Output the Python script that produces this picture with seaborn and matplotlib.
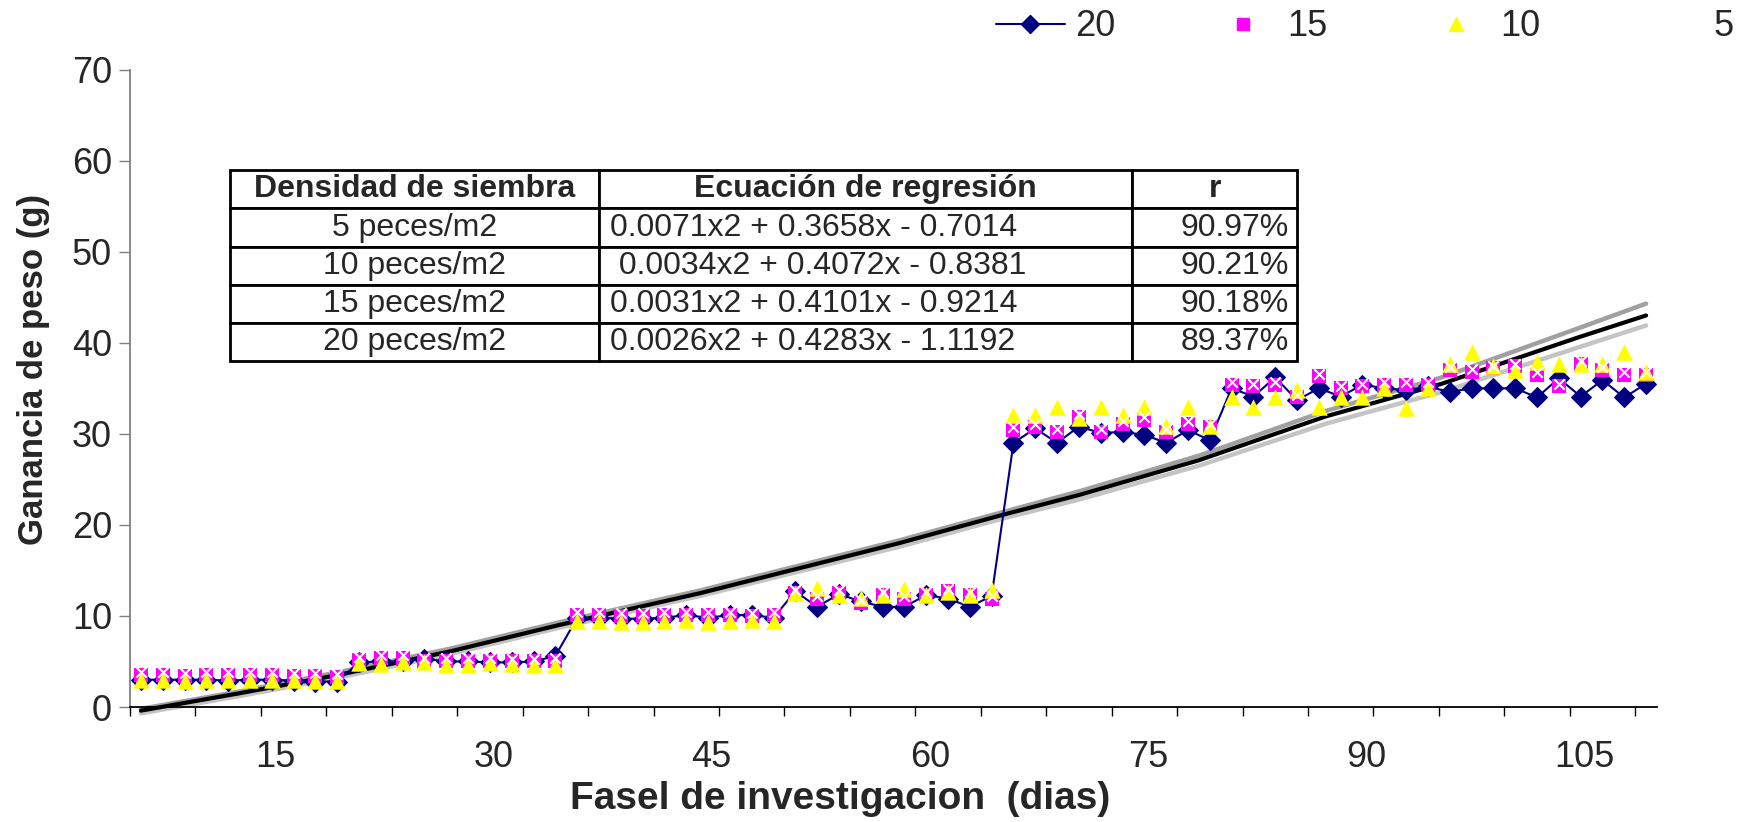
import numpy as np
import seaborn as sns
import matplotlib.pyplot as plt
from matplotlib.lines import Line2D

# dias de muestreo (cada 1.5 dias)
dias = [5.75, 7.25, 8.75, 10.25, 11.75, 13.25, 14.75, 16.25, 17.75, 19.25,
        20.75, 22.25, 23.75, 25.25, 26.75, 28.25, 29.75, 31.25, 32.75, 34.25,
        35.75, 37.25, 38.75, 40.25, 41.75, 43.25, 44.75, 46.25, 47.75, 49.25,
        50.75, 52.25, 53.75, 55.25, 56.75, 58.25, 59.75, 61.25, 62.75, 64.25,
        65.75, 67.25, 68.75, 70.25, 71.75, 73.25, 74.75, 76.25, 77.75, 79.25,
        80.75, 82.25, 83.75, 85.25, 86.75, 88.25, 89.75, 91.25, 92.75, 94.25,
        95.75, 97.25, 98.75, 100.25, 101.75, 103.25, 104.75, 106.25, 107.75, 109.25]

# ganancia de peso por densidad (peces/m2)
g20 = [3.0, 3.0, 3.0, 3.0, 2.9, 3.0, 3.0, 2.9, 2.8, 2.8,
       4.9, 5.0, 5.0, 5.3, 5.0, 5.0, 4.9, 4.9, 5.0, 5.6,
       9.8, 9.8, 9.7, 9.7, 9.8, 10.1, 9.8, 10.1, 10.1, 9.8,
       12.7, 11.0, 12.4, 11.6, 11.0, 11.0, 12.3, 11.9, 11.0, 12.2,
       29.0, 30.6, 29.0, 30.8, 30.1, 30.2, 29.9, 29.0, 30.4, 29.3,
       35.0, 34.1, 36.2, 33.7, 35.0, 34.1, 35.4, 35.0, 34.8, 35.2,
       34.6, 35.0, 35.0, 35.0, 34.0, 36.1, 34.1, 35.9, 34.0, 35.5]
g15 = [3.5, 3.5, 3.4, 3.5, 3.5, 3.5, 3.5, 3.4, 3.4, 3.3,
       5.2, 5.4, 5.4, 5.1, 5.1, 5.1, 5.1, 5.0, 5.0, 5.1,
       10.1, 10.1, 10.0, 10.0, 10.1, 10.1, 10.1, 10.1, 10.0, 10.1,
       12.5, 11.9, 12.5, 11.4, 12.3, 11.9, 12.3, 12.7, 12.3, 11.9,
       30.4, 30.8, 30.2, 31.9, 30.2, 31.1, 31.5, 30.2, 31.1, 30.8,
       35.4, 35.2, 35.4, 34.0, 36.3, 35.0, 35.2, 35.4, 35.4, 35.4,
       37.0, 36.8, 37.2, 37.4, 36.5, 35.2, 37.7, 37.0, 36.5, 36.5]
g10 = [3.0, 3.0, 2.9, 3.0, 3.0, 3.0, 3.0, 3.0, 2.9, 2.9,
       4.8, 4.7, 4.9, 4.9, 4.6, 4.6, 4.8, 4.7, 4.6, 4.6,
       9.5, 9.5, 9.3, 9.3, 9.4, 9.6, 9.3, 9.4, 9.6, 9.4,
       12.5, 13.1, 12.3, 12.0, 12.3, 13.0, 12.3, 12.6, 12.3, 12.8,
       32.1, 32.1, 33.0, 31.7, 33.0, 32.1, 33.0, 30.9, 33.0, 30.9,
       34.0, 33.0, 34.0, 34.8, 33.0, 34.0, 34.0, 35.0, 32.8, 35.0,
       37.7, 39.0, 37.5, 37.0, 37.9, 37.7, 37.7, 37.7, 39.0, 36.8]
g5 = [3.8, 3.8, 3.7, 3.8, 3.8, 3.8, 3.8, 3.7, 3.7, 3.6,
      5.5, 5.7, 5.7, 5.4, 5.4, 5.4, 5.4, 5.3, 5.3, 5.4,
      10.4, 10.4, 10.3, 10.3, 10.4, 10.4, 10.4, 10.4, 10.3, 10.4,
      12.8, 12.2, 12.8, 11.7, 12.6, 12.2, 12.6, 13.0, 12.6, 12.2,
      30.7, 31.1, 30.5, 32.2, 30.5, 31.4, 31.8, 30.5, 31.4, 31.1,
      35.7, 35.5, 35.7, 34.3, 36.6, 35.3, 35.5, 35.7, 35.7, 35.7,
      37.3, 37.1, 37.5, 37.7, 36.8, 35.5, 38.0, 37.3, 36.8, 36.8]

# lineas de tendencia
tend_dias = [5.75, 12.5, 19.25, 27, 34.5, 44.2, 57.9, 65, 70.3, 78.5, 87.2, 95.2, 104.6, 109.25]
tend_negro = [-0.4, 1.5, 3.5, 6.1, 9.0, 12.5, 18.0, 21.1, 23.3, 27.1, 31.9, 35.5, 40.6, 43.0]
tend_gris1 = [-0.2, 1.7, 3.8, 6.4, 9.3, 12.8, 18.3, 21.4, 23.7, 27.6, 32.5, 36.2, 41.6, 44.3]
tend_gris2 = [-0.7, 1.2, 3.2, 5.8, 8.7, 12.2, 17.6, 20.7, 22.8, 26.5, 31.1, 34.6, 39.5, 41.9]

# tabla de regresiones
encabezado = ['Densidad de siembra', 'Ecuación de regresión', 'r']
densidades = ['5 peces/m2', '10 peces/m2', '15 peces/m2', '20 peces/m2']
ecuaciones = ['0.0071x2 + 0.3658x - 0.7014', ' 0.0034x2 + 0.4072x - 0.8381',
              '0.0031x2 + 0.4101x - 0.9214', '0.0026x2 + 0.4283x - 1.1192']
r_valores = ['90.97%', '90.21%', '90.18%', '89.37%']

sns.set_style('white')
plt.rcParams['font.family'] = ['Liberation Sans', 'DejaVu Sans']

fig = plt.figure(figsize=(17.59, 8.22), dpi=100)
ax = fig.add_axes([0.0739, 0.1399, 0.8681, 0.7754])

# tendencias
for yv, col, lw, z in [(tend_gris2, '#C4C4C4', 3.2, 1), (tend_gris1, '#A0A0A0', 3.2, 1),
                       (tend_negro, 'black', 3.0, 2)]:
    sns.lineplot(x=tend_dias, y=yv, color=col, linewidth=lw, ax=ax,
                 estimator=None, sort=False, zorder=z, clip_on=False)

# series
sns.lineplot(x=dias, y=g20, color='#000080', linewidth=1.5, marker='D', markersize=10,
             markeredgecolor='#000080', ax=ax, estimator=None, sort=False, zorder=3)
sns.scatterplot(x=dias, y=g15, marker='s', s=90, color='#FF00FF', linewidth=0, ax=ax, zorder=4)
sns.scatterplot(x=dias, y=g10, marker='^', s=140, color='#FFFF00', linewidth=0, ax=ax, zorder=5)
sns.scatterplot(x=dias, y=g5, marker='x', s=55, color='white', linewidth=1.5, ax=ax, zorder=6)

ax.set_xlim(5, 110)
ax.set_ylim(0, 70)
ax.set_yticks(range(0, 71, 10))
ax.set_xticks(range(15, 106, 15))
ax.set_xticks(np.arange(5, 110, 4.5), minor=True)
ax.tick_params(axis='x', which='major', length=0, pad=24, labelsize=26)
ax.tick_params(axis='x', which='minor', bottom=True, length=6.5, width=1, color='black', direction='out')
ax.tick_params(axis='y', left=True, length=8, width=1, color='#808080', direction='out', labelsize=26, pad=5)

for s in ['top', 'right']:
    ax.spines[s].set_visible(False)
ax.spines['left'].set_color('#808080')
ax.spines['left'].set_linewidth(1.3)
ax.spines['bottom'].set_color('black')
ax.spines['bottom'].set_linewidth(1.3)

ax.set_xlabel('Fasel de investigacion  (dias)', fontsize=28, fontweight='bold')
ax.xaxis.set_label_coords(0.465, -0.144)
ax.xaxis.label.set_va('center')
ax.set_ylabel('Ganancia de peso (g)', fontsize=25, fontweight='bold')
ax.yaxis.set_label_coords(-0.0629, 0.530)
ax.yaxis.label.set_va('center')

celdas = [encabezado] + [[d, e, r] for d, e, r in zip(densidades, ecuaciones, r_valores)]
tab = ax.table(cellText=celdas, colWidths=[0.346, 0.499, 0.155],
               bbox=[0.0655, 0.543, 0.699, 0.299])
tab.auto_set_font_size(False)
tab.set_fontsize(23)
tab.set_zorder(10)
for (fila, col), cell in tab.get_celld().items():
    cell.set_linewidth(2)
    cell.set_edgecolor('black')
    cell.set_facecolor('white')
    txt = cell.get_text()
    if fila == 0:
        txt.set_fontweight('bold')
        cell._loc = 'center'
        txt.set_ha('center')
    elif col == 0:
        cell._loc = 'center'
        txt.set_ha('center')
    elif col == 1:
        cell._loc = 'left'
        cell.PAD = 0.02
        txt.set_ha('left')
    else:
        cell._loc = 'right'
        cell.PAD = 0.05
        txt.set_ha('right')

handles = [Line2D([], [], color='#000080', lw=1.5, marker='D', ms=9),
           Line2D([], [], ls='none', marker='s', color='#FF00FF', ms=8),
           Line2D([], [], ls='none', marker='^', color='#FFFF00', ms=10),
           Line2D([], [], ls='none', marker='x', color='white', ms=7)]
fig.legend(handles, ['20', '15', '10', '5'], loc='center left',
           bbox_to_anchor=(996 / 1759, 1 - 27 / 822), ncol=4, frameon=False,
           fontsize=26, handlelength=1.9, handletextpad=0.28, columnspacing=2.6,
           borderpad=0, borderaxespad=0)

fig.savefig('out.png', dpi=100)
